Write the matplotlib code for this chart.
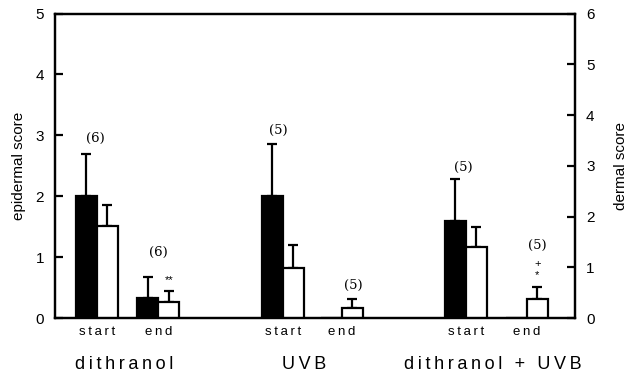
import numpy as np
import matplotlib.pyplot as plt

plt.rcParams['font.family'] = ['Liberation Sans', 'DejaVu Sans']

# treatment groups and time points
groups = ['dithranol', 'UVB', 'dithranol + UVB']
timepoints = ['start', 'end', 'start', 'end', 'start', 'end']
n_labels = ['(6)', '(6)', '(5)', '(5)', '(5)', '(5)']

# epidermal score (left axis, black bars)
epi_mean = [2.0, 0.33, 2.0, 0.0, 1.6, 0.0]
epi_err = [0.69, 0.34, 0.85, 0.0, 0.68, 0.0]

# dermal score (right axis, white bars)
der_mean = [1.82, 0.32, 0.98, 0.20, 1.40, 0.37]
der_err = [0.41, 0.21, 0.46, 0.17, 0.40, 0.25]


def spaced(s):
    # wide letter spacing for the category labels
    return '\u2009'.join(s)


# --- layout (x in axis units, bar width 21) ---
width = 21
xpos = np.array([42, 103.5, 228, 287, 411, 472])
n_x = [40, 103, 223, 298, 408, 482.5]
n_y = [2.95, 1.07, 3.08, 0.54, 2.48, 1.19]
group_x = [69, 249, 438]

fig = plt.figure(figsize=(6.27, 3.74), dpi=100)
ax = fig.add_axes([0.0877, 0.1497, 0.8293, 0.8142])
ax2 = ax.twinx()

lw = 1.6
ax.bar(xpos - width/2, epi_mean, width, color='black', edgecolor='black', linewidth=lw, zorder=2)
ax2.bar(xpos + width/2, der_mean, width, color='white', edgecolor='black', linewidth=lw, zorder=2)

# upper error bars only
m = np.array(epi_err) > 0
ax.errorbar((xpos - width/2)[m], np.array(epi_mean)[m], yerr=[np.zeros(m.sum()), np.array(epi_err)[m]],
            fmt='none', ecolor='black', elinewidth=lw, capsize=3.5, capthick=lw, zorder=1)
ax2.errorbar(xpos + width/2, der_mean, yerr=[np.zeros(len(der_err)), der_err],
             fmt='none', ecolor='black', elinewidth=lw, capsize=3.5, capthick=lw, zorder=1)

ax.set_xlim(0, 520)
ax.set_ylim(0, 5)
ax2.set_ylim(0, 6)
ax.set_yticks(range(6))
ax2.set_yticks(range(7))
ax.set_xticks([])
for a in (ax, ax2):
    for s in a.spines.values():
        s.set_linewidth(lw)
ax.tick_params(axis='y', direction='in', length=6, width=lw, labelsize=11, pad=8)
ax2.tick_params(axis='y', direction='in', length=6, width=lw, labelsize=11, pad=8)

ax.set_ylabel('epidermal score', fontsize=11, labelpad=7)
ax2.set_ylabel('dermal score', fontsize=11, labelpad=14)

# n per group
for x, y, t in zip(n_x, n_y, n_labels):
    ax.text(x, y, t, ha='center', va='center', fontsize=9.5, family='DejaVu Serif')

# significance marks
ax.text(114, 0.62, '**', ha='center', va='center', fontsize=8)
ax.text(482.5, 0.89, '+', ha='center', va='center', fontsize=8)
ax.text(482.5, 0.70, '*', ha='center', va='center', fontsize=8)

# x labels
for x, t in zip(xpos, timepoints):
    ax.text(x, -0.23, spaced(t), ha='center', va='center', fontsize=9.5)
for x, g in zip(group_x, groups):
    ax.text(x, -0.77, spaced(g), ha='center', va='center', fontsize=13)

fig.savefig('out.png', dpi=100)
